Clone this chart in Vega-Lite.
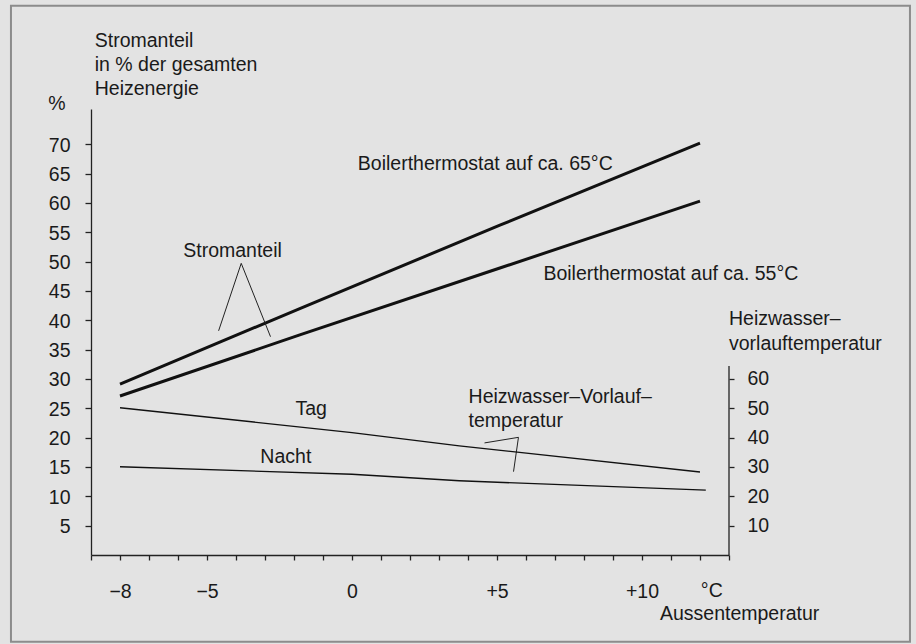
{
  "$schema": "https://vega.github.io/schema/vega-lite/v6.json",
  "width": 638,
  "height": 446,
  "autosize": "none",
  "padding": {"left": 91, "top": 109, "right": 187, "bottom": 89},
  "background": "#e3e3e3",
  "config": {
    "view": {"stroke": null},
    "font": "Liberation Sans",
    "axis": {
      "grid": false,
      "domainColor": "#222222",
      "tickColor": "#222222",
      "domainWidth": 1.3,
      "tickWidth": 1.3,
      "labelColor": "#1a1a1a",
      "labelFont": "Liberation Sans",
      "labelFontSize": 19.5
    },
    "text": {"font": "Liberation Sans", "fontSize": 19.5, "color": "#1a1a1a"}
  },
  "datasets": {
    "strom": [
      {"kurve": "65", "t": -8, "p": 29.1},
      {"kurve": "65", "t": -1.8, "p": 42.0},
      {"kurve": "65", "t": 5.1, "p": 56.2},
      {"kurve": "65", "t": 12, "p": 70.2},
      {"kurve": "55", "t": -8, "p": 27.1},
      {"kurve": "55", "t": -1.8, "p": 37.5},
      {"kurve": "55", "t": 5.1, "p": 48.9},
      {"kurve": "55", "t": 12, "p": 60.3}
    ],
    "wasser": [
      {"kurve": "Tag", "t": -8, "temp": 50.2},
      {"kurve": "Tag", "t": 0, "temp": 41.7},
      {"kurve": "Tag", "t": 3.7, "temp": 37.2},
      {"kurve": "Tag", "t": 12, "temp": 28.3},
      {"kurve": "Nacht", "t": -8, "temp": 30.1},
      {"kurve": "Nacht", "t": 0, "temp": 27.5},
      {"kurve": "Nacht", "t": 3.7, "temp": 25.3},
      {"kurve": "Nacht", "t": 12.2, "temp": 22.1}
    ],
    "leader": [
      {"id": "a", "i": 1, "t": -4.6, "p": 38.2},
      {"id": "a", "i": 2, "t": -3.82, "p": 49.7},
      {"id": "a", "i": 3, "t": -2.81, "p": 37.2},
      {"id": "b", "i": 1, "t": 4.57, "p": 19.1},
      {"id": "b", "i": 2, "t": 5.74, "p": 20.05},
      {"id": "b", "i": 3, "t": 5.57, "p": 14.2}
    ],
    "notes": [
      {"t": 0.2, "p": 65.6, "text": "Boilerthermostat auf ca. 65°C"},
      {"t": 6.6, "p": 46.9, "text": "Boilerthermostat auf ca. 55°C"},
      {"t": -5.82, "p": 50.7, "text": "Stromanteil"},
      {"t": -1.95, "p": 23.9, "text": "Tag"},
      {"t": -3.16, "p": 15.7, "text": "Nacht"},
      {"t": 4.02, "p": 25.95, "text": "Heizwasser–Vorlauf–"},
      {"t": 4.02, "p": 21.76, "text": "temperatur"},
      {"t": 13, "p": 39.2, "text": "Heizwasser–"},
      {"t": 13, "p": 34.9, "text": "vorlauftemperatur"},
      {"t": -8.87, "p": 86.6, "text": "Stromanteil"},
      {"t": -8.87, "p": 82.5, "text": "in % der gesamten"},
      {"t": -8.87, "p": 78.4, "text": "Heizenergie"},
      {"t": -10.47, "p": 75.8, "text": "%"},
      {"t": 12.03, "p": -7.2, "text": "°C"},
      {"t": 10.62, "p": -11.1, "text": "Aussentemperatur"}
    ]
  },
  "layer": [
    {
      "layer": [
        {
          "data": {"values": [{}]},
          "mark": {"type": "rect", "fill": null, "fillOpacity": 0, "stroke": "#8c8c8c", "strokeWidth": 2},
          "encoding": {
            "x": {"datum": -11.76, "type": "quantitative", "scale": {"domain": [-9, 13], "nice": false, "zero": false}, "axis": {"title": null}},
            "x2": {"datum": 19.24},
            "y": {"datum": 93.6, "type": "quantitative", "scale": {"domain": [0, 76], "nice": false, "zero": false}, "axis": {"title": null}},
            "y2": {"datum": -14.8}
          }
        },
        {
          "data": {"name": "strom"},
          "mark": {"type": "line", "color": "#111111", "strokeWidth": 3},
          "encoding": {
            "x": {
              "field": "t", "type": "quantitative",
              "scale": {"domain": [-9, 13], "nice": false, "zero": false},
              "axis": {
                "title": null,
                "values": [-9, -8, -7, -6, -5, -4, -3, -2, -1, 0, 1, 2, 3, 4, 5, 6, 7, 8, 9, 10, 11, 12, 13],
                "tickCount": 100,
                "labelExpr": "datum.value == -8 ? '−8' : datum.value == -5 ? '−5' : datum.value == 0 ? '0' : datum.value == 5 ? '+5' : datum.value == 10 ? '+10' : ''",
                "tickSize": 5,
                "labelPadding": 22,
                "labelFlush": false,
                "labelOverlap": false
              }
            },
            "y": {
              "field": "p", "type": "quantitative",
              "scale": {"domain": [0, 76], "nice": false, "zero": false},
              "axis": {
                "title": null,
                "orient": "left",
                "values": [5, 10, 15, 20, 25, 30, 35, 40, 45, 50, 55, 60, 65, 70],
                "tickCount": 100,
                "tickSize": 6,
                "labelPadding": 15,
                "labelOffset": 1,
                "labelFlush": false,
                "labelOverlap": false
              }
            },
            "detail": {"field": "kurve"}
          }
        },
        {
          "data": {"name": "leader"},
          "mark": {"type": "line", "color": "#222222", "strokeWidth": 1},
          "encoding": {
            "x": {"field": "t", "type": "quantitative", "scale": {"domain": [-9, 13], "nice": false, "zero": false}, "axis": {"title": null}},
            "y": {"field": "p", "type": "quantitative", "scale": {"domain": [0, 76], "nice": false, "zero": false}, "axis": {"title": null}},
            "detail": {"field": "id"},
            "order": {"field": "i"}
          }
        },
        {
          "data": {"name": "notes"},
          "mark": {"type": "text", "align": "left", "baseline": "alphabetic"},
          "encoding": {
            "x": {"field": "t", "type": "quantitative", "scale": {"domain": [-9, 13], "nice": false, "zero": false}, "axis": {"title": null}},
            "y": {"field": "p", "type": "quantitative", "scale": {"domain": [0, 76], "nice": false, "zero": false}, "axis": {"title": null}},
            "text": {"field": "text"}
          }
        }
      ]
    },
    {
      "layer": [
        {
          "data": {"name": "wasser"},
          "mark": {"type": "line", "color": "#111111", "strokeWidth": 1.4},
          "encoding": {
            "x": {"field": "t", "type": "quantitative", "scale": {"domain": [-9, 13], "nice": false, "zero": false}, "axis": {"title": null}},
            "y": {
              "field": "temp", "type": "quantitative",
              "scale": {"domain": [0, 152], "nice": false, "zero": false},
              "axis": {
                "title": null,
                "orient": "right",
                "domain": false,
                "values": [10, 20, 30, 40, 50, 60],
                "tickCount": 100,
                "tickSize": 5,
                "labelPadding": 13,
                "labelFlush": false,
                "labelOverlap": false
              }
            },
            "detail": {"field": "kurve"}
          }
        },
        {
          "data": {"values": [{}]},
          "mark": {"type": "rule", "color": "#222222", "strokeWidth": 1.3},
          "encoding": {
            "x": {"datum": 13, "type": "quantitative", "scale": {"domain": [-9, 13], "nice": false, "zero": false}, "axis": {"title": null}},
            "y": {"datum": 0, "type": "quantitative", "scale": {"domain": [0, 152], "nice": false, "zero": false}, "axis": {"title": null}},
            "y2": {"datum": 64.4}
          }
        }
      ]
    }
  ],
  "resolve": {"scale": {"y": "independent"}, "axis": {"y": "independent"}}
}
